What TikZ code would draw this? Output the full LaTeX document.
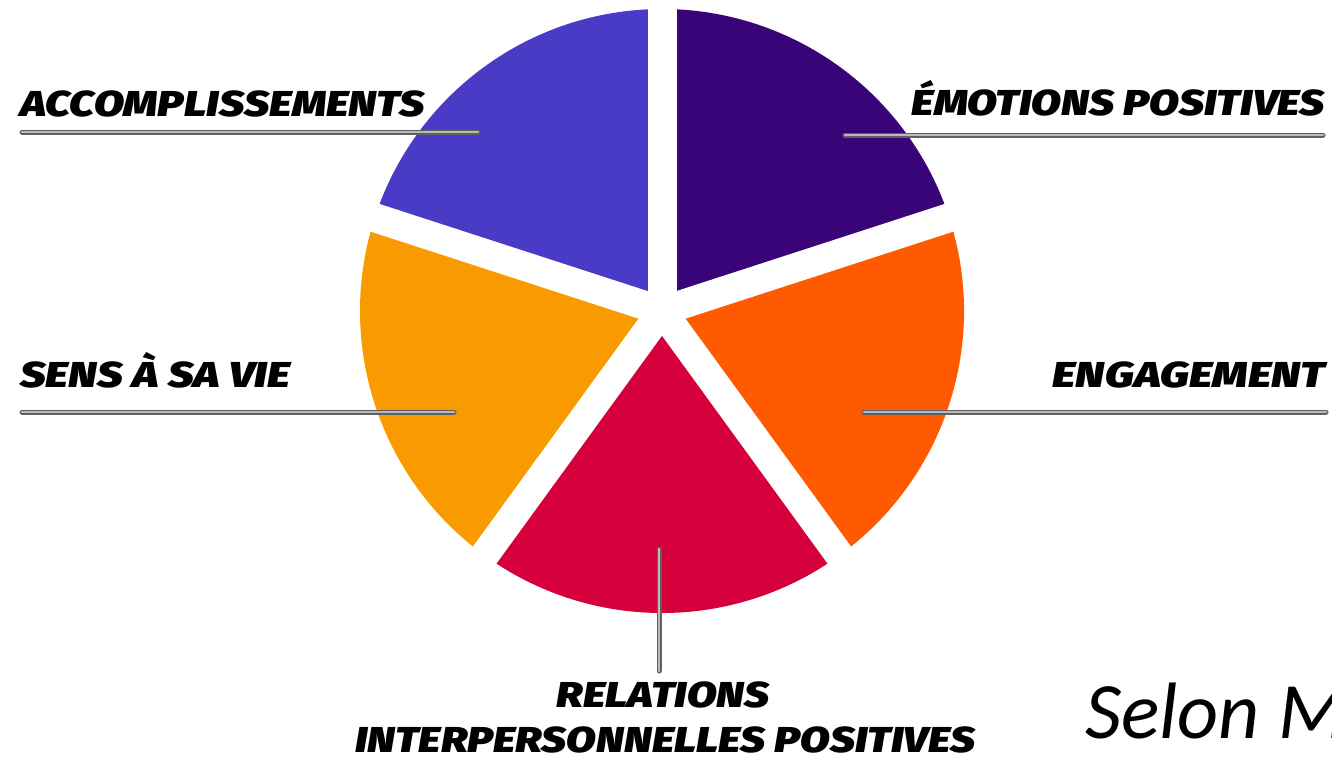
\documentclass[tikz,border=0pt]{standalone}
\usepackage{fontspec}
\usepackage{graphicx}
\IfFontExistsTF{Fira Sans Black Italic}
  {\newfontfamily\labfont{Fira Sans Black Italic}}
  {\IfFontExistsTF{Fira Sans ExtraBold Italic}
     {\newfontfamily\labfont{Fira Sans ExtraBold Italic}[FakeBold=1.2]}
     {\newfontfamily\labfont{Fira Sans}[UprightFont={* Bold Italic}, AutoFakeBold=2.5]}}
\newfontfamily\selonfont{Carlito}
\definecolor{cblue}{HTML}{4A3BC6}
\definecolor{cpurple}{HTML}{3A0479}
\definecolor{camber}{HTML}{F99B00}
\definecolor{ccrimson}{HTML}{D6003C}
\definecolor{corange}{HTML}{FF5A00}
\newcommand\lbl[2]{\resizebox{#1}{\height}{\labfont\fontsize{36}{36}\selectfont #2}}
\tikzset{
  slicegap/.style={white, line width=29pt},
  leader/.style={draw=gray!75!black, line width=5pt, line cap=round,
     postaction={draw=gray!55, line width=2.8pt, line cap=round}},
  lab/.style={inner sep=0pt, text=black}
}
\begin{document}
\begin{tikzpicture}[x=1pt,y=1pt]
\clip (0,0) rectangle (1332,-758);
\fill[white] (0,0) rectangle (1332,-758);
\coordinate (c) at (662,-311);
% slices
\fill[cpurple] (c) -- ++(18:302) arc[start angle=18, end angle=90, radius=302] -- cycle;
\fill[cblue] (c) -- ++(90:302) arc[start angle=90, end angle=162, radius=302] -- cycle;
\fill[camber] (c) -- ++(162:302) arc[start angle=162, end angle=234, radius=302] -- cycle;
\fill[ccrimson] (c) -- ++(234:302) arc[start angle=234, end angle=306, radius=302] -- cycle;
\fill[corange] (c) -- ++(306:302) arc[start angle=306, end angle=378, radius=302] -- cycle;
% gaps
\foreach \a in {18,90,162,234,306} \draw[slicegap] (c) -- ++(\a:330);
% labels
\node[lab, anchor=base west] (acc) at (20,-116) {\lbl{405pt}{ACCOMPLISSEMENTS}};
\node[lab, anchor=base east] (emo) at (1325,-115) {\lbl{413pt}{ÉMOTIONS POSITIVES}};
\node[lab, anchor=base west] (sens) at (20,-387) {\lbl{270pt}{SENS À SA VIE}};
\node[lab, anchor=base east] (eng) at (1325,-387) {\lbl{272pt}{ENGAGEMENT}};
\node[lab, anchor=base] (rel) at (663,-707) {\lbl{213pt}{RELATIONS}};
\node[lab, anchor=base] (inter) at (665,-752) {\lbl{620pt}{INTERPERSONNELLES POSITIVES}};
% leader lines
\coordinate (acc1) at (22,-132); \coordinate (acc2) at (478,-132);
\coordinate (emo1) at (845,-135); \coordinate (emo2) at (1323,-135);
\coordinate (sens1) at (22,-412); \coordinate (sens2) at (454,-412);
\coordinate (eng1) at (864,-412); \coordinate (eng2) at (1326,-412);
\coordinate (rel1) at (659,-549); \coordinate (rel2) at (659,-671);
\draw[leader] (acc1) -- (acc2);
\draw[leader] (emo1) -- (emo2);
\draw[leader] (sens1) -- (sens2);
\draw[leader] (eng1) -- (eng2);
\draw[leader] (rel1) -- (rel2);
% source
\node[inner sep=0pt, anchor=base west] (selon) at (1085,-738) {\selonfont\itshape\fontsize{80}{80}\selectfont Selon M};
\end{tikzpicture}
\end{document}
